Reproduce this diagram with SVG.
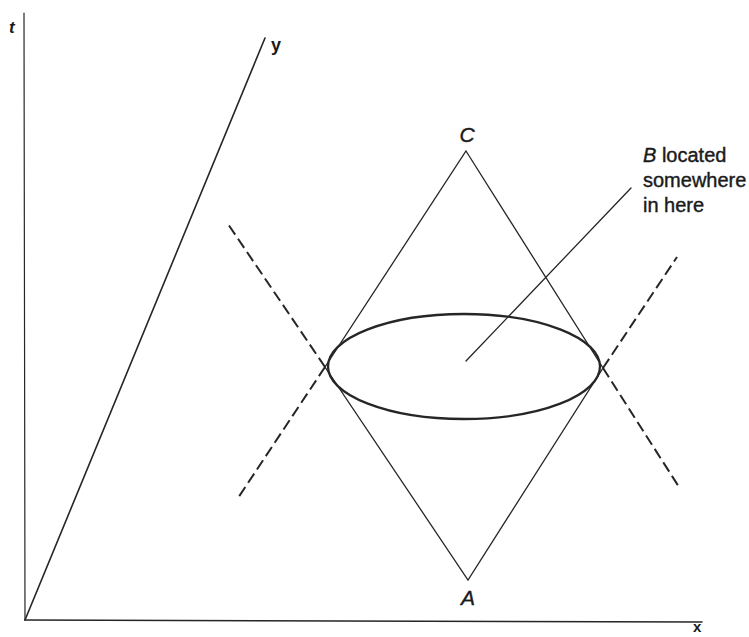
<svg xmlns="http://www.w3.org/2000/svg" width="749" height="637" viewBox="0 0 749 637">
<style>
.ln{stroke:#262626;fill:none;stroke-linecap:round}
.ax{stroke-width:1.6}
.edge{stroke-width:1.3}
.dash{stroke-width:2;stroke-dasharray:11 5;stroke-linecap:butt}
.lbl{font-family:"Liberation Sans",Arial,sans-serif;fill:#1a1a1a;stroke:#1a1a1a;stroke-width:0.4}
.pt{font-size:21px;font-style:italic;text-anchor:middle}
.axl{font-weight:bold;stroke-width:0}
.note{font-size:20px}
</style>
<rect width="749" height="637" fill="#ffffff"/>
<g id="axes">
<line class="ln" x1="24" y1="13" x2="25" y2="620" stroke-width="1.2" stroke="#555"/>
<line class="ln ax" x1="25" y1="620" x2="702" y2="622" stroke-width="2"/>
<line class="ln ax" x1="25" y1="620" x2="265" y2="38"/>
<text class="lbl axl" x="9" y="33" font-size="17" font-style="italic">t</text>
<text class="lbl axl" x="271" y="51" font-size="18">y</text>
<text class="lbl axl" x="693" y="632" font-size="15">x</text>
</g>
<g id="connectors">
<polygon class="ln edge" points="466,151 603,368 468,580 325,367"/>
<line class="ln dash" x1="325" y1="367" x2="228" y2="224"/>
<line class="ln dash" x1="325" y1="367" x2="238" y2="498"/>
<line class="ln dash" x1="603" y1="368" x2="677" y2="257"/>
<line class="ln dash" x1="603" y1="368" x2="679" y2="487"/>
<line class="ln edge" x1="466" y1="361" x2="631" y2="188"/>
</g>
<g id="node-B">
<ellipse class="ln" cx="464" cy="366.5" rx="136" ry="52.5" stroke-width="2.3"/>
</g>
<g id="node-C">
<text class="lbl pt" x="467" y="142">C</text>
</g>
<g id="node-A">
<text class="lbl pt" x="468" y="605">A</text>
</g>
<g id="label-B">
<text class="lbl note" x="643" y="162"><tspan font-style="italic">B</tspan> located</text>
<text class="lbl note" x="643" y="187">somewhere</text>
<text class="lbl note" x="643" y="212">in here</text>
</g>
</svg>
